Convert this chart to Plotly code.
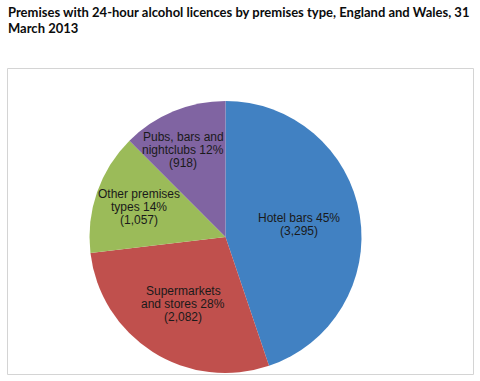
import math
import plotly.graph_objects as go

categories = ["Hotel bars", "Supermarkets and stores", "Other premises types", "Pubs, bars and nightclubs"]
values = [3295, 2082, 1057, 918]
percent_labels = ["45%", "28%", "14%", "12%"]
label_lines = [
    ["Hotel bars 45%", "(3,295)"],
    ["Supermarkets", "and stores 28%", "(2,082)"],
    ["Other premises", "types 14%", "(1,057)"],
    ["Pubs, bars and", "nightclubs 12%", "(918)"],
]
colors = ["#4181C2", "#C0504D", "#9BBB59", "#8064A2"]

W, H = 480, 381
cx, cy, r = 225.5, 237.0, 136.0
label_rfrac = [0.55, 0.58, 0.67, 0.71]
label_dang = [0.0, 0.0, 0.0, -0.06]  # small angular nudges (radians)

fig = go.Figure(go.Pie(
    labels=categories,
    values=values,
    sort=False,
    direction="clockwise",
    rotation=0,
    marker=dict(colors=colors, line=dict(width=0)),
    textinfo="none",
    hoverinfo="label+value+percent",
    showlegend=False,
    domain=dict(x=[(cx - r) / W, (cx + r) / W], y=[(H - cy - r) / H, (H - cy + r) / H]),
))

total = sum(values)
cum = 0.0
annotations = []
line_h = 13.0
for i, v in enumerate(values):
    mid = (cum + v / 2) / total
    cum += v
    ang = 2 * math.pi * mid + label_dang[i]
    d = r * label_rfrac[i]
    px = cx + d * math.sin(ang)
    py = cy - d * math.cos(ang)
    lines = label_lines[i]
    n = len(lines)
    for j, t in enumerate(lines):
        ly = py + (j - (n - 1) / 2) * line_h
        annotations.append(dict(
            text=t, x=px / W, y=(H - ly) / H, xref="paper", yref="paper",
            showarrow=False, xanchor="center", yanchor="middle",
            font=dict(family="Liberation Sans, Arial, sans-serif", size=12, color="#1a1a1a"),
        ))

# Title
title_lines = ["Premises with 24-hour alcohol licences by premises type, England and Wales, 31", "March 2013"]
for j, t in enumerate(title_lines):
    annotations.append(dict(
        text="<b>" + t + "</b>", x=6 / W, y=(H - (12.5 + j * 16)) / H, xref="paper", yref="paper",
        showarrow=False, xanchor="left", yanchor="middle",
        font=dict(family="Lato, Noto Sans, sans-serif", size=13, color="#0b0c0c"),
    ))

fig.update_layout(
    width=W, height=H,
    margin=dict(l=0, r=0, t=0, b=0),
    paper_bgcolor="white",
    plot_bgcolor="white",
    annotations=annotations,
    shapes=[dict(type="rect", xref="paper", yref="paper",
                 x0=7.5 / W, x1=473.5 / W, y0=(H - 374.5) / H, y1=(H - 68.5) / H,
                 line=dict(color="#d4d4d4", width=1), fillcolor="rgba(0,0,0,0)", layer="below")],
)

fig.write_html("out.html", config={"displayModeBar": False},
               post_script="document.body.style.margin='0';document.body.style.overflow='hidden';")
